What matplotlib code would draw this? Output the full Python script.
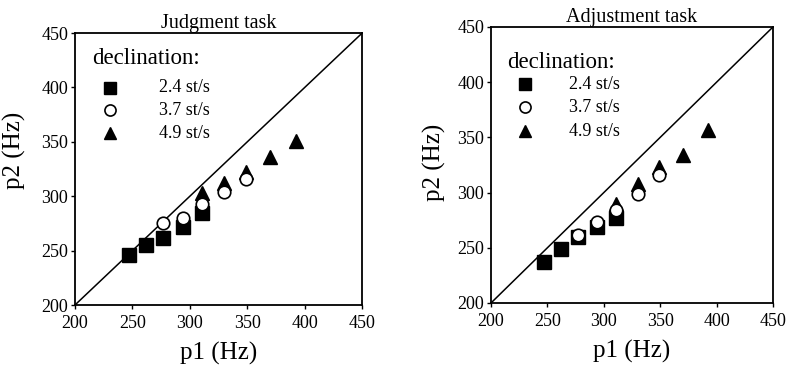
import matplotlib.pyplot as plt

plt.rcParams['font.family'] = ['Liberation Serif', 'DejaVu Serif']

# p1 values (Hz), semitone steps
p1_slow = [247, 262, 277, 294, 311]
p1_mid = [277, 294, 311, 330, 349]
p1_fast = [311, 330, 349, 370, 392]

# judgment task p2 (Hz)
judg_slow = [246, 255, 262, 272, 285]
judg_mid = [275, 280, 293, 304, 316]
judg_fast = [303, 312, 322, 336, 351]

# adjustment task p2 (Hz)
adj_slow = [237, 249, 260, 269, 277]
adj_mid = [262, 273, 284, 299, 316]
adj_fast = [290, 308, 323, 334, 357]

rates = ['2.4 st/s', '3.7 st/s', '4.9 st/s']

fig = plt.figure(figsize=(7.89, 3.69), dpi=100)
ax1 = fig.add_axes([0.095, 0.1734, 0.364, 0.737])
ax2 = fig.add_axes([0.6223, 0.1789, 0.3574, 0.748])


def draw_panel(ax, title, slow, mid, fast, leg_x, leg_y, lab_x, rows):
    ax.plot([200, 450], [200, 450], color='black', lw=1.1)
    ax.plot(p1_slow, slow, 's', color='black', ms=10, ls='none')
    ax.plot(p1_fast, fast, '^', color='black', ms=10, ls='none')
    ax.plot(p1_mid, mid, 'o', mfc='white', mec='black', mew=1.2, ms=9, ls='none')

    ax.set_xlim(200, 450)
    ax.set_ylim(200, 450)
    ax.set_xticks([200, 250, 300, 350, 400, 450])
    ax.set_yticks([200, 250, 300, 350, 400, 450])
    ax.tick_params(direction='out', length=3, width=1, labelsize=13, pad=2)
    ax.tick_params(axis='x', pad=4)
    for s in ax.spines.values():
        s.set_linewidth(1.3)

    ax.set_title(title, fontsize=14.5, pad=3)
    ax.set_xlabel('p1 (Hz)', fontsize=18, labelpad=7)

    # legend
    ax.text(leg_x, leg_y, 'declination:', transform=ax.transAxes,
            fontsize=16.5, ha='left', va='center')
    styles = [dict(marker='s', color='black', ms=9),
              dict(marker='o', mfc='white', mec='black', mew=1.2, ms=8),
              dict(marker='^', color='black', ms=9)]
    for st, y, lab in zip(styles, rows, rates):
        ax.plot([0.122], [y], transform=ax.transAxes, ls='none', **st)
        ax.text(lab_x, y, lab, transform=ax.transAxes, fontsize=13,
                ha='left', va='center')


draw_panel(ax1, 'Judgment task', judg_slow, judg_mid, judg_fast,
           0.059, 0.908, 0.293, [0.798, 0.717, 0.632])
draw_panel(ax2, 'Adjustment task', adj_slow, adj_mid, adj_fast,
           0.057, 0.873, 0.277, [0.793, 0.710, 0.623])

ax1.set_ylabel('p2 (Hz)', fontsize=18)
ax1.yaxis.set_label_coords(-0.17, 0.57)
ax2.set_ylabel('p2 (Hz)', fontsize=18)
ax2.yaxis.set_label_coords(-0.16, 0.51)

plt.savefig('out.png', dpi=100)
